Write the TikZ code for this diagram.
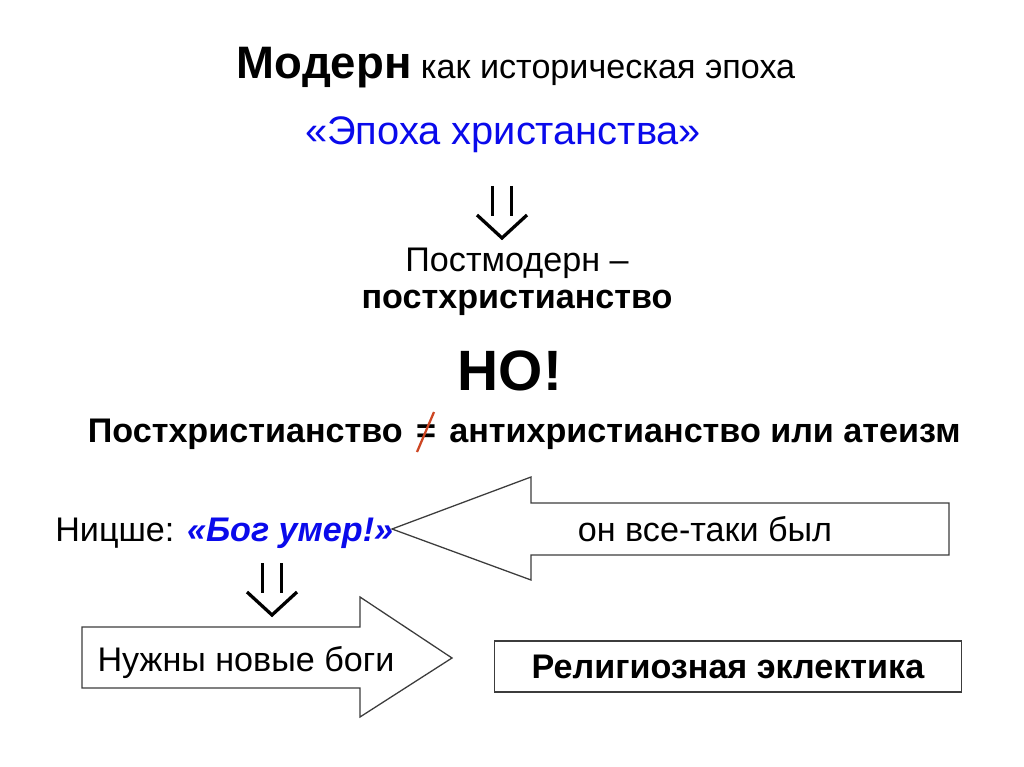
\documentclass[tikz,border=0pt]{standalone}
\usepackage{fontspec}
\setmainfont{Liberation Sans}
\usetikzlibrary{positioning,calc}
\definecolor{slideblue}{RGB}{10,10,235}
\definecolor{slashred}{RGB}{205,70,35}
\definecolor{boxline}{RGB}{60,60,60}

\begin{document}
\begin{tikzpicture}[x=0.703125pt,y=-0.703125pt,
  every node/.style={inner sep=0pt,font=\fontsize{24}{29}\selectfont},
  big/.style={font=\fontsize{28}{34}\selectfont},
  bold/.style={font=\fontsize{24}{29}\selectfont\bfseries},
  block/.style={draw=boxline,line width=0.9pt,fill=white},
  thenarrow/.pic={
    \draw[line width=2.3pt] (-9.5,-27) -- (-9.5,3) (9.5,-27) -- (9.5,3);
    \draw[line width=2.3pt] (-25,2) -- (0,25) -- (25,2);}]
\useasboundingbox (0,0) rectangle (1024,767);
\node[anchor=base] (modern) at (516,79) {{\fontsize{32}{38}\selectfont\bfseries Модерн} как историческая эпоха};
\node[big,anchor=base,text=slideblue] (era) at (503,145) {«Эпоха христанства»};
\pic at (502,213) {thenarrow};
\node[anchor=base] (postmod) at (517,271) {Постмодерн –};
\node[bold,anchor=base] (postchr) at (517,308) {постхристианство};
\node[anchor=base,font=\fontsize{40}{48}\selectfont\bfseries] (but) at (510,390) {НО!};
% строка с перечеркнутым знаком равенства
\node[bold,anchor=base] (neq) at (426,442) {=};
\node[bold,anchor=base east] (pchr) at ([xshift=-9]neq.base west) {Постхристианство};
\node[bold,anchor=base west] (achr) at ([xshift=9]neq.base east) {антихристианство или атеизм};
\draw[slashred,line width=1.6pt] ([shift={(-9,10)}]neq.base) -- ([shift={(8,-30)}]neq.base);
\node[anchor=base west] (nietzsche) at (55,541) {Ницше: {\color{slideblue}\bfseries\itshape «Бог умер!»}};
% блочные стрелки
\draw[block] (392,529) -- (531,477) -- (531,503) -- (949,503) -- (949,555) -- (531,555) -- (531,580) -- cycle;
\node[anchor=base] (was) at (705,541) {он все-таки был};
\pic at (272,590) {thenarrow};
\draw[block] (82,627) -- (360,627) -- (360,597) -- (452,658) -- (360,717) -- (360,688) -- (82,688) -- cycle;
\node[anchor=base] (gods) at (246,671) {Нужны новые боги};
\node[block,bold,minimum width=467*0.703125pt,minimum height=51*0.703125pt] (eclectic) at (728,666.5) {Религиозная эклектика};
\end{tikzpicture}
\end{document}
